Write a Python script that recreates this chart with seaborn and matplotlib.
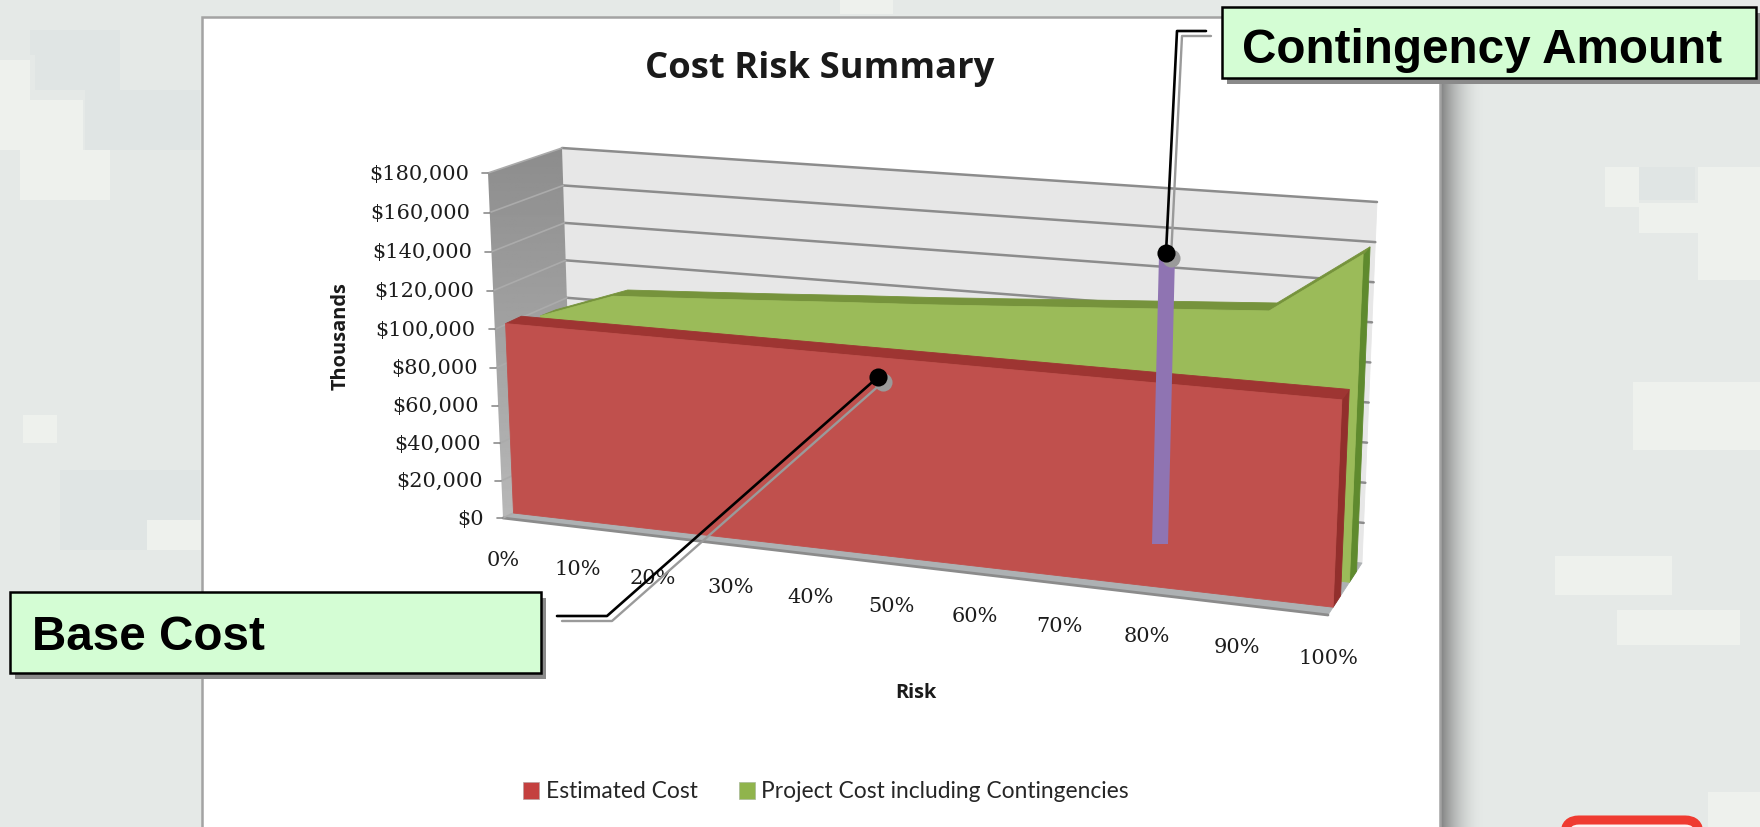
import numpy as np
import pandas as pd

import matplotlib
matplotlib.use("Agg")
import matplotlib.pyplot as plt
from matplotlib.patches import Patch, Polygon, Rectangle, FancyBboxPatch
import seaborn as sns

risk_labels = ["0%", "10%", "20%", "30%", "40%", "50%", "60%", "70%", "80%", "90%", "100%"]
risk = [0.0, 0.1, 0.2, 0.3, 0.4, 0.5, 0.6, 0.7, 0.8, 0.9, 1.0]
estimated_cost = [100000, 100000, 100000, 100000, 100000, 100000,
                  100000, 100000, 100000, 100000, 100000]
project_cost = [96000, 109700, 111800, 114000, 116400, 118600,
                121200, 123900, 126600, 129300, 160500]
axis_ticks = [0, 20000, 40000, 60000, 80000, 100000, 120000, 140000, 160000, 180000]
AXIS_MAX = 180000

# screen position of the eight corners of the 3D box: [risk][value][depth]
BOX = np.array([
    [[[503, 518], [573, 485]], [[488, 173], [562, 148]]],
    [[[1328, 615], [1362, 563]], [[1344, 236], [1377, 202]]],
], dtype=float)

RED_DEPTH = (0.15, 0.37)
GREEN_DEPTH = (0.63, 0.84)

RED = "#c0504d"
RED_TOP = "#9e3532"
RED_SIDE = "#922f2c"
GREEN = "#9bbb59"
GREEN_TOP = "#76933c"
GREEN_SIDE = "#5f8a2e"
GRID = "#8c8c8c"


def project(r, value, depth):
    # risk axis is foreshortened a little, the rest is trilinear in the box
    r = np.asarray(r, dtype=float)
    u = 0.89 * r / (1 - 0.11 * r)
    v = np.asarray(value, dtype=float) / AXIS_MAX
    w = np.asarray(depth, dtype=float)
    # value axis bows slightly on the near side
    v = v - 0.035 * v * (1 - v) * (1 - w) ** 4
    out = 0
    for i, a in enumerate([1 - u, u]):
        for j, b in enumerate([1 - v, v]):
            for k, c in enumerate([1 - w, w]):
                out = out + (a * b * c)[..., None] * BOX[i, j, k]
    return out


def face(ax, points, color, z):
    ax.add_patch(Polygon(points, closed=True, facecolor=color, edgecolor=color, lw=0.6, zorder=z))


def edge(ax, points, color, lw, z):
    df = pd.DataFrame(points, columns=["px", "py"])
    sns.lineplot(data=df, x="px", y="py", sort=False, estimator=None, color=color,
                 linewidth=lw, legend=False, zorder=z, ax=ax)


def area(ax, values, depth, front, top, side, base_z):
    r = np.array(risk)
    vals = np.array(values, dtype=float)
    zeros = np.zeros_like(r)
    d0, d1 = depth
    # right hand side wall
    face(ax, project(np.array([1.0, 1.0, 1.0, 1.0]),
                     np.array([0, vals[-1], vals[-1], 0]),
                     np.array([d0, d0, d1, d1])), side, base_z)
    # top strip
    top_pts = np.vstack([project(r, vals, np.full_like(r, d1)),
                         project(r[::-1], vals[::-1], np.full_like(r, d0))])
    face(ax, top_pts, top, base_z + 0.1)
    # front face
    front_pts = np.vstack([project(r, vals, np.full_like(r, d0)),
                           project(r[::-1], zeros, np.full_like(r, d0))])
    face(ax, front_pts, front, base_z + 0.2)


sns.set_theme(style="white")
plt.rcParams["font.family"] = ["DejaVu Sans"]

fig = plt.figure(figsize=(17.6, 8.27), dpi=100)
ax = fig.add_axes([0, 0, 1, 1])

# camouflage page background
BG = "#e5e9e7"
LIGHT = "#eef1ed"
DARK = "#e0e5e4"
ax.add_patch(Rectangle((0, 0), 1760, 827, color=BG, zorder=0))
dark_blocks = [(30, 30, 90, 25), (35, 30, 85, 60), (85, 90, 115, 60), (1634, 167, 61, 33),
               (60, 470, 140, 80)]
light_blocks = [(0, 60, 30, 40), (0, 100, 83, 50), (20, 150, 90, 50), (23, 415, 34, 28),
                (147, 520, 54, 30), (1605, 167, 34, 40), (1639, 203, 59, 30),
                (1698, 167, 62, 113), (1633, 382, 127, 68), (1555, 556, 117, 39),
                (1617, 610, 123, 35), (1708, 792, 52, 35), (840, 0, 53, 14)]
for x0, y0, w0, h0 in dark_blocks:
    ax.add_patch(Rectangle((x0, y0), w0, h0, color=DARK, lw=0, zorder=0.1))
for x0, y0, w0, h0 in light_blocks:
    ax.add_patch(Rectangle((x0, y0), w0, h0, color=LIGHT, lw=0, zorder=0.2))

# panel shadow on the right
shadow = np.zeros((1, 60, 4))
shadow[..., :3] = 0.42
shadow[..., 3] = np.linspace(1, 0, 60) ** 2 * 0.8
ax.imshow(shadow, extent=(1441, 1486, 827, 17), aspect="auto", zorder=0.5)

# chart panel
ax.add_patch(Rectangle((202, 17), 1238, 830, facecolor="white", edgecolor="#a3a3a3", lw=1.8, zorder=1))

# back wall, left wall and floor
rr = np.array
back = project(rr([0.0, 1, 1, 0]), rr([AXIS_MAX, AXIS_MAX, 0, 0]), rr([1.0, 1, 1, 1]))
face(ax, back, "#e7e7e7", 2)
left = project(rr([0.0, 0, 0, 0]), rr([AXIS_MAX, AXIS_MAX, 0, 0]), rr([0.0, 1, 1, 0]))
wall = np.linspace(0.55, 0.72, 200)[:, None].repeat(2, axis=1)
im = ax.imshow(wall, cmap="gray", vmin=0, vmax=1, extent=(480, 580, 520, 145), aspect="auto", zorder=2)
im.set_clip_path(Polygon(left, closed=True, transform=ax.transData))
floor = project(rr([0.0, 1, 1, 0]), rr([0.0, 0, 0, 0]), rr([0.0, 0, 1, 1]))
face(ax, floor, "#adb1b3", 2)
edge(ax, project(rr([0.0, 1]), rr([0.0, 0]), rr([0.0, 0])), "#8b8b8b", 2.0, 2.1)

# gridlines, side wall lines and tick marks
for tick in axis_ticks[1:]:
    line = project(rr([0.0, 1]), rr([tick, tick]), rr([1.0, 1]))
    edge(ax, line, GRID, 1.8, 2.2)
for tick in axis_ticks:
    side_line = project(rr([0.0, 0]), rr([tick, tick]), rr([0.0, 1]))
    edge(ax, side_line, "#ababab", 1.2, 2.3)
    front_pt = project(rr(0.0), rr(float(tick)), rr(0.0))
    edge(ax, [[front_pt[0] - 6, front_pt[1]], front_pt], "#8c8c8c", 1.2, 2.3)
    ax.text(front_pt[0] - 19, front_pt[1] + 1, f"${tick:,.0f}", ha="right", va="center",
            family="DejaVu Serif", fontsize=15, color="#1c1c1c", zorder=3)

# the two area series
area(ax, project_cost, GREEN_DEPTH, GREEN, GREEN_TOP, GREEN_SIDE, 4)
area(ax, estimated_cost, RED_DEPTH, RED, RED_TOP, RED_SIDE, 5)

# risk labels under the floor
for r_val, lab in zip(risk, risk_labels):
    p = project(rr(r_val), rr(0.0), rr(0.0))
    ax.text(p[0], p[1] + 43, lab, ha="center", va="center", family="DejaVu Serif",
            fontsize=15, color="#1c1c1c", zorder=3)

# chart titles
ax.text(820, 69, "Cost Risk Summary", ha="center", va="center", family="Open Sans",
        fontweight="bold", fontsize=26.2, color="#1a1a1a", zorder=3)
ax.text(341, 336, "Thousands", rotation=90, ha="center", va="center", family="Open Sans",
        fontweight="bold", fontsize=14.4, color="#1a1a1a", zorder=3)
ax.text(916, 693, "Risk", ha="center", va="center", family="Open Sans",
        fontweight="bold", fontsize=14.4, color="#1a1a1a", zorder=3)

# purple contingency bar overlay
ax.add_patch(Polygon([(1159, 255), (1175, 255), (1168, 544), (1152, 544)], closed=True,
                     facecolor="#8f74b2", edgecolor="none", zorder=6))

# callout leaders, grey copy first
base_leader = [[557, 616], [607, 616], [878, 377]]
cont_leader = [[1206, 31], [1177, 31], [1166, 253]]
for pts in (base_leader, cont_leader):
    pts = np.array(pts, dtype=float)
    edge(ax, pts + [5, 5], "#9a9a9a", 1.7, 7)
    ax.scatter(pts[-1, 0] + 5, pts[-1, 1] + 5, s=170, color="#9a9a9a", lw=0, zorder=7)
    edge(ax, pts, "black", 1.9, 8)
    ax.scatter(pts[-1, 0], pts[-1, 1], s=170, color="black", lw=0, zorder=8)

# callout boxes
boxes = [(1222, 7, 534, 71, "Contingency Amount", 1242, 56), (10, 592, 531, 81, "Base Cost", 32, 58)]
for bx, by, bw, bh, label, tx, base in boxes:
    ax.add_patch(Rectangle((bx + 5, by + 6), bw, bh, facecolor="#8a8a8a", lw=0, zorder=9))
    ax.add_patch(Rectangle((bx, by), bw, bh, facecolor="#d4fdd4", edgecolor="black", lw=1.8, zorder=10))
    ax.text(tx, by + base, label, ha="left", va="baseline", family="Liberation Sans",
            fontweight="bold", fontsize=34.3, color="black", zorder=11)

# red rounded box cut off by the bottom edge
ax.add_patch(FancyBboxPatch((1565, 820), 134, 40, boxstyle="round,pad=0,rounding_size=14",
                            facecolor="#fdf3f2", edgecolor="#ef3b31", lw=6.5, zorder=3))

# legend
handles = [Patch(facecolor="#c4403f", edgecolor="#b9a0a0", lw=0.5),
           Patch(facecolor="#90b44c", edgecolor="#a8b898", lw=0.5)]
ax.legend(handles, ["Estimated Cost", "Project Cost including Contingencies"],
          loc="center", bbox_to_anchor=(826, 792), bbox_transform=ax.transData, ncol=2,
          frameon=False, handlelength=0.7, handleheight=0.8, handletextpad=0.3,
          columnspacing=1.8, prop={"family": ["Lato"], "size": 16.4})

ax.set_xlim(0, 1760)
ax.set_ylim(827, 0)
ax.set_xlabel("")
ax.set_ylabel("")
ax.axis("off")

fig.savefig("out.png", dpi=100)
plt.close(fig)
